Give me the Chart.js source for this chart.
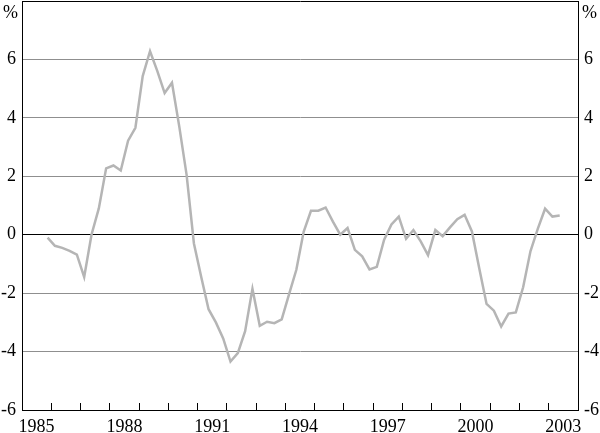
<!DOCTYPE html>
<html>
<head>
<meta charset="utf-8">
<script src="https://cdn.jsdelivr.net/npm/chart.js@4.4.1/dist/chart.umd.min.js"></script>
<style>
  html, body { margin: 0; padding: 0; background: #fff; overflow: hidden; }
  #wrap { position: relative; width: 600px; height: 433px; }
</style>
</head>
<body>
<div id="wrap"><canvas id="myChart"></canvas></div>
<script>
// quarterly series, first observation is 1985 Q4
var firstYear = 1985;
var firstQuarter = 4;
var values = [
  -0.1,
  -0.38, -0.45, -0.55, -0.68,   // 1986
  -1.45, 0.0, 0.9, 2.27,        // 1987
  2.37, 2.2, 3.22, 3.66,        // 1988
  5.43, 6.28, 5.6, 4.85,        // 1989
  5.2, 3.7, 2.05, -0.3,         // 1990
  -1.45, -2.55, -3.0, -3.55,    // 1991
  -4.34, -4.05, -3.3, -1.85,    // 1992
  -3.12, -2.98, -3.03, -2.9,    // 1993
  -2.04, -1.2, 0.1, 0.82,       // 1994
  0.82, 0.93, 0.45, 0.0,        // 1995
  0.23, -0.52, -0.74, -1.19,    // 1996
  -1.1, -0.17, 0.35, 0.62,      // 1997
  -0.14, 0.16, -0.23, -0.7,     // 1998
  0.16, -0.05, 0.25, 0.53,      // 1999
  0.68, 0.11, -1.15, -2.37,     // 2000
  -2.6, -3.14, -2.7, -2.66,     // 2001
  -1.8, -0.57, 0.2, 0.89,       // 2002
  0.62, 0.66                    // 2003
];
var yearLabels = [1985, 1988, 1991, 1994, 1997, 2000, 2003];
var yTicks = [-6, -4, -2, 0, 2, 4, 6, 8];
var xMin = 1985;
var xMax = 2004;

var font = { family: "'Liberation Serif', 'DejaVu Serif', serif", size: 18 };

// place each quarter at the middle of its quarter
var points = values.map(function(v, i) {
  var q = firstQuarter - 1 + i;
  var year = firstYear + Math.floor(q / 4);
  return { x: year + ((q % 4) + 0.5) / 4, y: v };
});

var yearTicks = [];
for (var yr = xMin; yr <= xMax; yr++) yearTicks.push({ value: yr });

function gridColor(c) {
  var v = c.tick.value;
  if (v === 0 || v === 8 || v === -6) return "#000";
  return "#8f8f8f";
}

function yAxis(position, isMain) {
  return {
    type: "linear",
    position: position,
    min: -6,
    max: 8,
    afterBuildTicks: function(axis) {
      axis.ticks = yTicks.map(function(v) { return { value: v }; });
    },
    afterFit: function(axis) {
      axis.width = 22;
      axis.paddingTop = 0;
      axis.paddingBottom = 0;
    },
    border: { color: "#000", width: 1 },
    grid: {
      drawOnChartArea: isMain,
      drawTicks: false,
      color: gridColor,
      lineWidth: 1
    },
    ticks: {
      padding: 6,
      color: "#000",
      font: font,
      callback: function(v) { return v === 8 ? "" : String(v); }
    }
  };
}

// draws the "%" unit at the top of both value axes
var unitPlugin = {
  id: "unitLabel",
  afterDraw: function(chart) {
    var ctx = chart.ctx;
    var left = chart.scales.y;
    var right = chart.scales.y2;
    var y = left.getPixelForValue(8) + 12;
    ctx.save();
    ctx.font = "18px 'Liberation Serif', serif";
    ctx.fillStyle = "#000";
    ctx.textBaseline = "middle";
    ctx.textAlign = "right";
    ctx.fillText("%", left.right - 4, y);
    ctx.textAlign = "left";
    ctx.fillText("%", right.left + 4, y);
    ctx.restore();
  }
};

var ctx = document.getElementById("myChart");
var myChart = new Chart(ctx, {
  type: "line",
  data: {
    datasets: [{
      data: points,
      borderColor: "#b5b5b5",
      borderWidth: 2.5,
      pointRadius: 0,
      tension: 0,
      fill: false
    }]
  },
  options: {
    responsive: true,
    maintainAspectRatio: false,
    animation: false,
    layout: { padding: { top: 1, left: 0, right: 0, bottom: 0 } },
    plugins: { legend: { display: false }, tooltip: { enabled: false } },
    scales: {
      x: {
        type: "linear",
        position: "bottom",
        min: xMin,
        max: xMax,
        afterBuildTicks: function(axis) { axis.ticks = yearTicks.slice(); },
        afterFit: function(axis) {
          axis.height = 23;
          axis.paddingLeft = 0;
          axis.paddingRight = 0;
        },
        border: { color: "#000", width: 1 },
        grid: {
          drawOnChartArea: false,
          drawTicks: true,
          tickLength: -7,
          tickColor: "#000",
          lineWidth: 1
        },
        ticks: {
          autoSkip: false,
          maxRotation: 0,
          padding: 13,
          labelOffset: 14.6,
          color: "#000",
          font: font,
          callback: function(v) { return yearLabels.indexOf(v) >= 0 ? String(v) : ""; }
        }
      },
      y: yAxis("left", true),
      y2: yAxis("right", false)
    }
  },
  plugins: [unitPlugin]
});
</script>
</body>
</html>
